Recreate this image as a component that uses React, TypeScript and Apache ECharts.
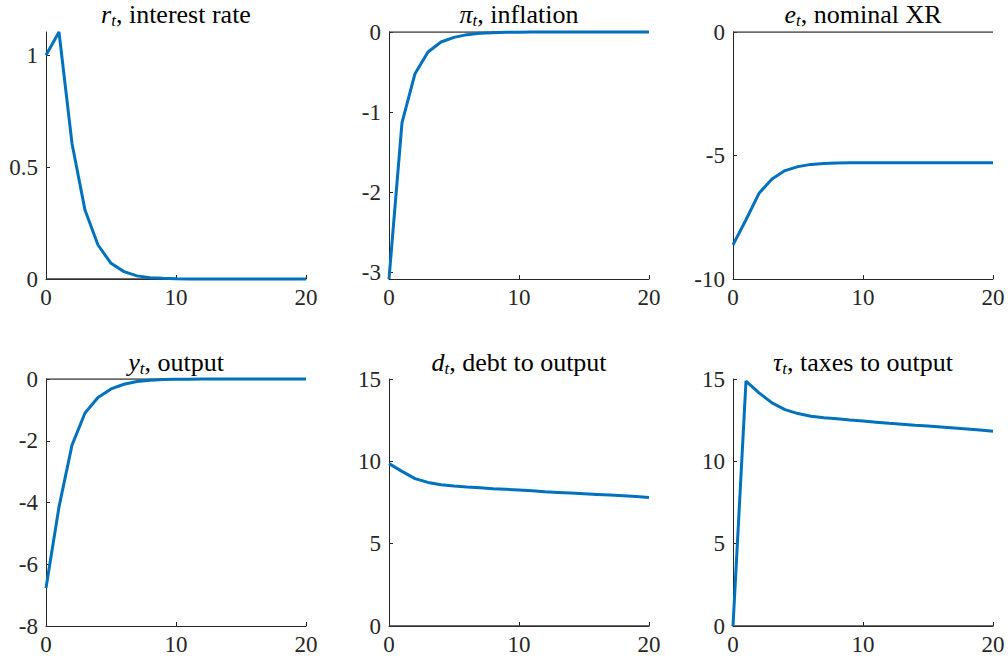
import React, { useEffect, useRef } from "react";
import * as echarts from "echarts";

const periods = [0, 1, 2, 3, 4, 5, 6, 7, 8, 9, 10, 11, 12, 13, 14, 15, 16, 17, 18, 19, 20];

const interestRate = [1.0, 1.104, 0.606, 0.308, 0.152, 0.07, 0.033, 0.014, 0.006, 0.003, 0.001, 0.0005, 0.0002, 0.0001, 0, 0, 0, 0, 0, 0, 0];
const inflation = [-3.08, -1.13, -0.52, -0.25, -0.125, -0.067, -0.033, -0.016, -0.008, -0.004, -0.002, -0.001, -0.0005, 0, 0, 0, 0, 0, 0, 0, 0];
const nominalXR = [-8.62, -7.6, -6.53, -5.95, -5.61, -5.45, -5.36, -5.32, -5.3, -5.29, -5.29, -5.29, -5.29, -5.29, -5.29, -5.29, -5.29, -5.29, -5.29, -5.29, -5.29];
const output = [-6.77, -4.14, -2.14, -1.1, -0.6, -0.32, -0.17, -0.08, -0.04, -0.02, -0.01, -0.005, 0, 0, 0, 0, 0, 0, 0, 0, 0];
const debt = [9.86, 9.39, 8.95, 8.72, 8.58, 8.5, 8.44, 8.39, 8.34, 8.3, 8.26, 8.21, 8.15, 8.11, 8.07, 8.03, 7.99, 7.95, 7.91, 7.86, 7.81];
const taxes = [0, 14.87, 14.16, 13.55, 13.14, 12.9, 12.74, 12.64, 12.58, 12.51, 12.45, 12.38, 12.31, 12.25, 12.19, 12.14, 12.09, 12.03, 11.97, 11.9, 11.83];

const zeroLine = [0, 0];
const zeroLineX = [0, 20];

const titleVars = ["r", "π", "e", "y", "d", "τ"];
const titleNames = [", interest rate", ", inflation", ", nominal XR", ", output", ", debt to output", ", taxes to output"];
const seriesList = [interestRate, inflation, nominalXR, output, debt, taxes];
const yMins = [0, -3.08, -10, -8, 0, 0];
const yMaxs = [1.104, 0, 0, 0, 15, 15];
const yTicks = [
  [0, 0.5, 1],
  [-3, -2, -1, 0],
  [-10, -5, 0],
  [-8, -6, -4, -2, 0],
  [0, 5, 10, 15],
  [0, 5, 10, 15],
];
const xTicks = [0, 10, 20];

export default function App() {
  const ref = useRef<HTMLDivElement>(null);
  useEffect(() => {
    if (!ref.current) return;
    const chart = echarts.init(ref.current, null, { renderer: "svg" });
    const lefts = [46, 389, 733];
    const tops = [32, 379];
    const W = 260;
    const H = 247;
    const font = "Liberation Serif";
    const axisColor = "#262626";
    const grids: any[] = [];
    const xAxes: any[] = [];
    const yAxes: any[] = [];
    const series: any[] = [];
    const titles: any[] = [];
    for (let i = 0; i < 6; i++) {
      const c = i % 3;
      const r = Math.floor(i / 3);
      grids.push({ left: lefts[c], top: tops[r], width: W, height: H, containLabel: false });
      xAxes.push({
        type: "value",
        gridIndex: i,
        min: 0,
        max: 20,
        interval: 10,
        axisLine: { show: true, onZero: false, lineStyle: { color: axisColor, width: 1 } },
        axisTick: { show: true, inside: true, length: 4, lineStyle: { color: axisColor }, customValues: xTicks },
        axisLabel: { color: axisColor, fontFamily: font, fontSize: 23, margin: 7, customValues: xTicks },
        splitLine: { show: false },
      });
      yAxes.push({
        type: "value",
        gridIndex: i,
        min: yMins[i],
        max: yMaxs[i],
        axisLine: { show: true, onZero: false, lineStyle: { color: axisColor, width: 1 } },
        axisTick: { show: true, inside: true, length: 4, lineStyle: { color: axisColor }, customValues: yTicks[i] },
        axisLabel: { color: axisColor, fontFamily: font, fontSize: 23, margin: 8, customValues: yTicks[i] },
        splitLine: { show: false },
      });
      series.push({
        type: "line",
        xAxisIndex: i,
        yAxisIndex: i,
        data: zeroLineX.map((x, k) => [x, zeroLine[k]]),
        symbol: "none",
        lineStyle: { color: "#3a3a3a", width: 1.5 },
        silent: true,
        z: 1,
      });
      series.push({
        type: "line",
        xAxisIndex: i,
        yAxisIndex: i,
        data: periods.map((t, k) => [t, seriesList[i][k]]),
        symbol: "none",
        lineStyle: { color: "#0072BD", width: 3 },
        clip: false,
        z: 2,
      });
      titles.push({
        text: `{v|${titleVars[i]}}{s|t}{n|${titleNames[i]}}`,
        left: lefts[c] + W / 2,
        top: r === 0 ? 14 : 362,
        textAlign: "center",
        textVerticalAlign: "middle",
        padding: 0,
        textStyle: {
          fontWeight: "normal",
          fontFamily: font,
          fontSize: 26,
          rich: {
            v: { fontFamily: font, fontStyle: "italic", fontWeight: "normal", fontSize: 26, color: "#000", lineHeight: 30 },
            s: { fontFamily: font, fontStyle: "italic", fontWeight: "normal", fontSize: 17, color: "#000", lineHeight: 16, verticalAlign: "bottom" },
            n: { fontFamily: font, fontWeight: "normal", fontSize: 26, color: "#000", lineHeight: 30 },
          },
        },
      });
    }
    chart.setOption({
      animation: false,
      backgroundColor: "#ffffff",
      textStyle: { fontFamily: font },
      title: titles,
      grid: grids,
      xAxis: xAxes,
      yAxis: yAxes,
      series,
    });
    return () => chart.dispose();
  }, []);
  return <div ref={ref} style={{ position: "fixed", left: 0, top: 0, width: 1008, height: 659 }} />;
}
